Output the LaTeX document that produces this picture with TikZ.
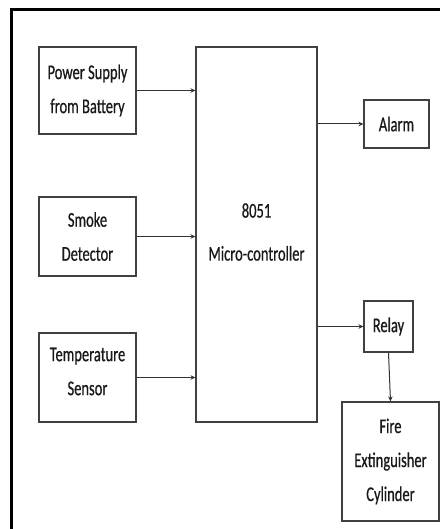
\documentclass[tikz,border=0pt]{standalone}
\usepackage{fontspec}
\setmainfont{Carlito}[FakeStretch=0.69,FakeBold=0.6]
\usetikzlibrary{arrows.meta}
\begin{document}
\begin{tikzpicture}[x=1bp,y=-1bp,
  box/.style={draw=black!75, line width=1.1bp, inner sep=0pt, align=center,
    font=\fontsize{21bp}{34bp}\selectfont, text=black!90},
  boxtext/.style={inner sep=0pt, align=center,
    font=\fontsize{21bp}{34bp}\selectfont, text=black!90},
  conn/.style={draw=black!80, line width=1bp, -{Stealth[length=5bp,width=4.5bp]}}]
\useasboundingbox (0,0) rectangle (440,529);
\fill[white] (0,0) rectangle (440,529);
\draw[line width=3bp, line cap=rect] (11,529) -- (11,9.5) -- (440,9.5);
\node[box, minimum width=97bp, minimum height=87bp] (ps) at (87.5,90.5) {Power Supply\\from Battery};
\node[box, minimum width=97bp, minimum height=79bp] (sd) at (87.5,236.5) {Smoke\\Detector};
\node[box, minimum width=97bp, minimum height=89bp] (ts) at (87.5,377.5) {};
\node[boxtext] (tst) at (87.5,371.5) {Temperature\\Sensor};
\node[box, minimum width=121bp, minimum height=375bp] (mc) at (256.5,234.5) {};
\node[boxtext] (mct) at (256.5,232) {8051\\[9bp]Micro-controller};
\node[box, minimum width=65bp, minimum height=48bp] (al) at (396.5,124) {Alarm};
\node[box, minimum width=49bp, minimum height=51bp] (rl) at (388.5,326.5) {Relay};
\node[box, minimum width=97bp, minimum height=119bp] (fe) at (390.5,461.5) {Fire\\Extinguisher\\Cylinder};
\draw[conn] (ps.east) -- (ps.east -| mc.west);
\draw[conn] (sd.east) -- (sd.east -| mc.west);
\draw[conn] (ts.east) -- (ts.east -| mc.west);
\draw[conn] (al.west -| mc.east) -- (al.west);
\draw[conn] (rl.west -| mc.east) -- (rl.west);
\draw[conn] (rl.south) -- (fe.north);
\end{tikzpicture}
\end{document}
